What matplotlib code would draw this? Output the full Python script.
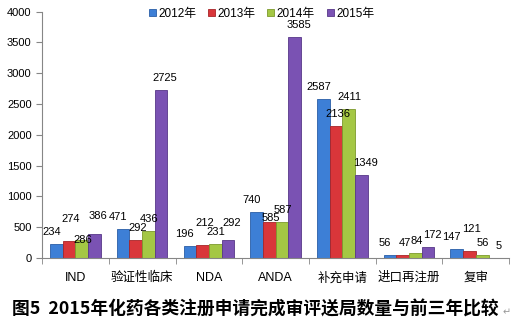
import numpy as np
import matplotlib.pyplot as plt

plt.rcParams['font.family'] = ['Liberation Sans', 'Noto Sans CJK SC', 'DejaVu Sans']

categories = ['IND', '验证性临床', 'NDA', 'ANDA', '补充申请', '进口再注册', '复审']
years = ['2012年', '2013年', '2014年', '2015年']
v2012 = [234, 471, 196, 740, 2587, 56, 147]
v2013 = [274, 292, 212, 585, 2136, 47, 121]
v2014 = [286, 436, 231, 587, 2411, 84, 56]
v2015 = [386, 2725, 292, 3585, 1349, 172, 5]
series = [v2012, v2013, v2014, v2015]

colors = ['#3d7fd6', '#d9363a', '#a4c744', '#7a52b3']
edges = ['#2a5ea6', '#a82428', '#7d9a2c', '#573789']
# extra lift (pixels) for labels Excel pushed around
lift = [[0, 0, 0, 0, 0, 0, 0],
        [10, 0, 10, -8, 0, 0, 10],
        [-12, 0, 0, 0, 0, 0, 0],
        [6, 0, 5, 0, 0, 0, 0]]
shift = [-5, 2, 1, 4]

fig = plt.figure(figsize=(5.22, 3.28), dpi=100)
ax = fig.add_axes([0.0805, 0.2134, 0.895, 0.7512])

x = np.arange(len(categories))
w = 0.19
for i, vals in enumerate(series):
    pos = x + (i - 1.5) * w
    ax.bar(pos, vals, w, color=colors[i], edgecolor=edges[i], linewidth=0.6,
           label=years[i], zorder=2)
    for j, v in enumerate(vals):
        ax.annotate(str(v), (pos[j], v), xytext=(shift[i], 12 + lift[i][j]),
                    textcoords='offset pixels', ha='center', va='center',
                    fontsize=8, color='black')

ax.set_xlim(-0.5, len(categories) - 0.5)
ax.set_ylim(0, 4000)
ax.set_yticks(np.arange(0, 4001, 500))
ax.set_xticks(x)
ax.set_xticklabels(categories, fontsize=9)
ax.set_xticks(np.arange(-0.5, len(categories), 1), minor=True)
ax.tick_params(axis='x', which='major', length=0, pad=10)
ax.tick_params(axis='x', which='minor', length=4, color='#868686')
ax.tick_params(axis='y', length=4, color='#868686', labelsize=8)
for s in ['top', 'right']:
    ax.spines[s].set_visible(False)
for s in ['left', 'bottom']:
    ax.spines[s].set_color('#868686')

ax.legend(loc='upper center', bbox_to_anchor=(0.47, 1.04), ncol=4, frameon=False,
          fontsize=8.5, handlelength=0.6, handleheight=0.6, handletextpad=0.2,
          columnspacing=1.0, borderpad=0)

fig.text(0.023, 0.055, '图5  2015年化药各类注册申请完成审评送局数量与前三年比较',
         fontsize=12.8, fontweight='bold', family=['Noto Sans CJK SC', 'DejaVu Sans'],
         va='center', ha='left')
fig.text(0.962, 0.048, '↵', fontsize=7, color='#999999', va='center',
         family=['DejaVu Sans'])

fig.savefig('out.png', dpi=100)
